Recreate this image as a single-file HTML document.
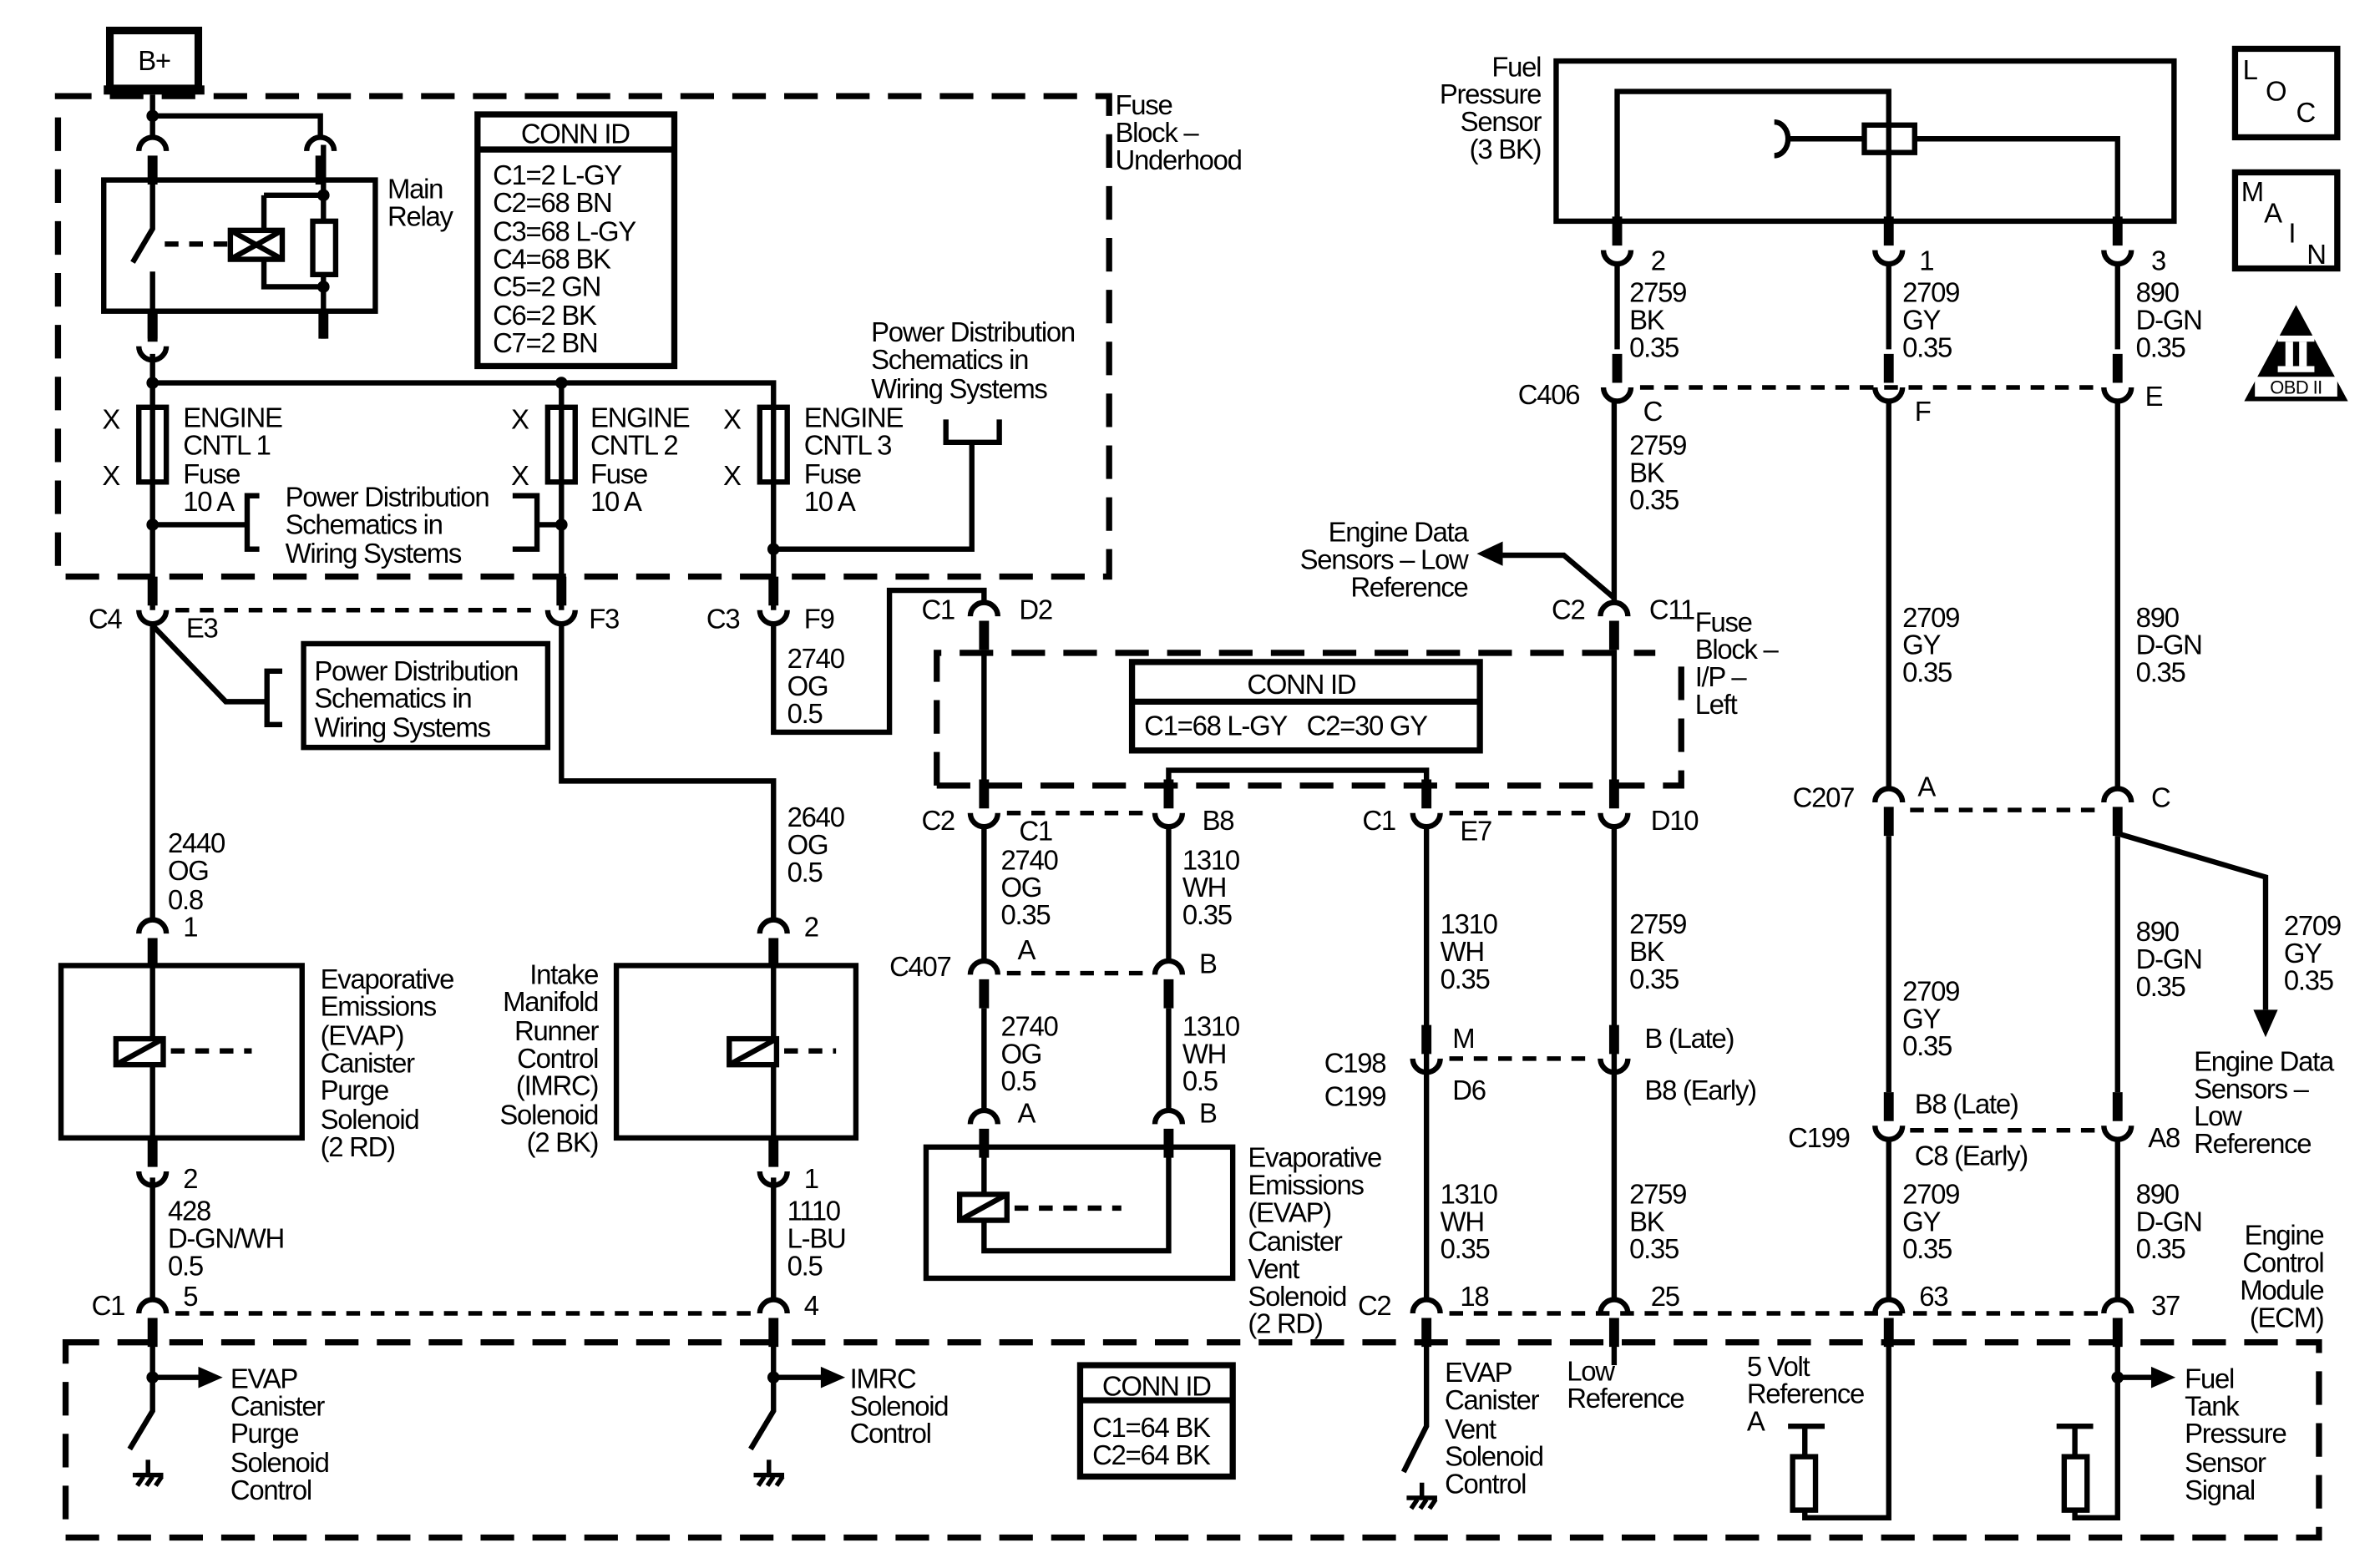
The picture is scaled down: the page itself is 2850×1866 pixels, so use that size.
<!DOCTYPE html>
<html><head><meta charset="utf-8"><style>
html,body{margin:0;padding:0;background:#fff;}
svg{display:block;}
text{font-family:"Liberation Sans",Arial,sans-serif;font-size:18px;fill:#000;letter-spacing:-0.7px;}
.r{text-anchor:end;}
.m{text-anchor:middle;}
</style></head><body>
<svg width="2850" height="1866" viewBox="0 0 1560 1021.4" preserveAspectRatio="none" xmlns="http://www.w3.org/2000/svg">
<defs>
<g id="cap"><path d="M-9,4 A9,9 0 0 1 9,4" fill="none" stroke="#000" stroke-width="3.5"/><line x1="0" y1="7" x2="0" y2="26" stroke="#000" stroke-width="6.5"/></g>
<g id="cup"><path d="M-9,-4 A9,9 0 0 0 9,-4" fill="none" stroke="#000" stroke-width="3.5"/><line x1="0" y1="-7" x2="0" y2="-26" stroke="#000" stroke-width="6.5"/></g>
<g id="gnd" stroke="#000" stroke-width="3" fill="none"><line x1="0" y1="0" x2="0" y2="10"/><line x1="-10" y1="10" x2="10" y2="10"/><line x1="-7" y1="17" x2="-3" y2="11"/><line x1="-1" y1="17" x2="3" y2="11"/><line x1="5" y1="17" x2="9" y2="11"/></g>
</defs>
<rect width="1560" height="1021.4" fill="#fff"/>

<g fill="none" stroke="#000" stroke-width="4" stroke-dasharray="22,12">
<rect x="38" y="63" width="689" height="315"/>
<path d="M614,515 V428 H1085"/>
<path d="M614,515 H1102 V428"/>
<rect x="43" y="880" width="1477" height="128"/>
</g>
<g stroke="#000" stroke-width="3" stroke-dasharray="9,7" fill="none">
<line x1="115" y1="400" x2="355" y2="400"/>
<line x1="660" y1="533" x2="752" y2="533"/>
<line x1="950" y1="533" x2="1045" y2="533"/>
<line x1="660" y1="638" x2="752" y2="638"/>
<line x1="950" y1="694" x2="1045" y2="694"/>
<line x1="115" y1="861" x2="495" y2="861"/>
<line x1="950" y1="861" x2="1375" y2="861"/>
<line x1="1075" y1="254" x2="1375" y2="254"/>
<line x1="1252" y1="531" x2="1375" y2="531"/>
<line x1="1252" y1="741" x2="1375" y2="741"/>
</g>

<rect x="72" y="20" width="58" height="38" fill="#fff" stroke="#000" stroke-width="5"/>
<rect x="68" y="56" width="66" height="6" fill="#000"/>
<text x="101" y="46" class="m">B+</text>

<g stroke="#000" stroke-width="3.5" fill="none">
<path d="M100,62 V91 M100,76 H210 V91"/>
<rect x="68" y="118" width="178" height="86"/>
<path d="M100,118 V150 L87,172 M100,178 V204"/>
<path d="M173,128 H212 M173,128 V150 M173,170 V188 H212"/>
<line x1="212" y1="95" x2="212" y2="222" stroke-width="3.5"/>
<rect x="205" y="145" width="15" height="35" fill="#fff"/>
<rect x="151" y="151" width="34" height="19" fill="#fff"/>
<path d="M151,151 L185,170 M185,151 L151,170"/>
<line x1="108" y1="160" x2="150" y2="160" stroke-dasharray="9,7"/>
<path d="M100,232 V400 M100,251 H507 V400 M368,251 V400"/>
<rect x="91" y="267" width="18" height="49" fill="#fff"/>
<line x1="100" y1="267" x2="100" y2="316"/>
<rect x="359" y="267" width="18" height="49" fill="#fff"/>
<line x1="368" y1="267" x2="368" y2="316"/>
<rect x="498" y="267" width="18" height="49" fill="#fff"/>
<line x1="507" y1="267" x2="507" y2="316"/>
<path d="M100,344 H162 M170,325 H162 V360 H170"/>
<path d="M336,325 H352 V360 H336 M352,344 H368"/>
<path d="M620,275 V290 H655 V275 M637,290 V360 H507"/>
<path d="M100,409 V604"/>
<path d="M100,410 L148,460 H175 M185,440 H175 V475 H185"/>
<rect x="199" y="422" width="160" height="68"/>
<path d="M368,409 V512 H507 V604"/>
<path d="M507,409 V480 H583 V387 H645 V396"/>
<rect x="40" y="633" width="158" height="113"/>
<line x1="100" y1="633" x2="100" y2="746"/>
<rect x="404" y="633" width="157" height="113"/>
<line x1="507" y1="633" x2="507" y2="746"/>
<path d="M100,772 V853 M507,772 V853"/>
<path d="M645,426 V529 M1058,426 V529"/>
<path d="M766,511 V505 H935 V511"/>
<path d="M645,541 V631 M766,541 V631 M645,661 V729 M766,661 V729"/>
<rect x="607" y="752" width="201" height="86"/>
<path d="M645,752 V820 H766 V752"/>
<path d="M935,541 V853 M1058,541 V853"/>
<path d="M1058,262 V396"/>
<path d="M1058,392 L1025,364 H985"/>
<rect x="1020" y="40" width="405" height="105"/>
<path d="M1060,145 V60 H1238 V145"/>
<path d="M1255,91 H1388 V145 M1172,91 H1222"/>
<path d="M1163,80 A9,11 0 0 1 1163,102"/>
<rect x="1222" y="82" width="33" height="18" fill="#fff"/>
<line x1="1238" y1="82" x2="1238" y2="100"/>
<path d="M1060,172 V229 M1238,172 V229 M1388,172 V229"/>
<path d="M1238,262 V518 M1388,262 V518"/>
<path d="M1238,548 V716 M1388,548 V716"/>
<path d="M1390,547 L1485,575 V662"/>
<path d="M1238,746 V853 M1388,746 V853"/>
<path d="M100,880 V925 L85,950 M100,903 H132"/>
<path d="M507,880 V925 L492,950 M507,903 H540"/>
<path d="M935,880 V935 L920,965"/>
<path d="M1058,880 V895"/>
<path d="M1238,880 V995 H1183 V990 M1183,955 V935 M1172,935 H1196"/>
<rect x="1175" y="955" width="15" height="35" fill="#fff"/>
<path d="M1388,880 V995 H1360 V990 M1360,955 V935 M1348,935 H1372 M1388,903 H1412"/>
<rect x="1353" y="955" width="15" height="35" fill="#fff"/>
<rect x="313" y="75" width="129" height="165" stroke-width="4"/>
<line x1="313" y1="98" x2="442" y2="98" stroke-width="4"/>
<rect x="742" y="434" width="228" height="58" stroke-width="4"/>
<line x1="742" y1="460" x2="970" y2="460" stroke-width="4"/>
<rect x="708" y="895" width="100" height="73" stroke-width="4"/>
<line x1="708" y1="918" x2="808" y2="918" stroke-width="4"/>
<rect x="1465" y="32" width="67" height="58" stroke-width="4"/>
<rect x="1465" y="113" width="67" height="63" stroke-width="4"/>
<line x1="112" y1="689" x2="165" y2="689" stroke-dasharray="9,7"/>
<line x1="514" y1="689" x2="548" y2="689" stroke-dasharray="9,7"/>
<line x1="665" y1="792" x2="735" y2="792" stroke-dasharray="9,7"/>
</g>
<g stroke="#000" stroke-width="3.5" fill="#fff">
<rect x="76" y="681" width="31" height="17"/><line x1="76" y1="698" x2="107" y2="681"/>
<rect x="478" y="681" width="31" height="17"/><line x1="478" y1="698" x2="509" y2="681"/>
<rect x="629" y="783" width="31" height="17"/><line x1="629" y1="800" x2="660" y2="783"/>
</g>
<g fill="#000">
<circle cx="100" cy="76" r="4"/><circle cx="212" cy="128" r="4"/><circle cx="212" cy="188" r="4"/>
<circle cx="100" cy="251" r="4"/><circle cx="368" cy="251" r="4"/><circle cx="100" cy="344" r="4"/>
<circle cx="368" cy="344" r="4"/><circle cx="507" cy="360" r="4"/>
<circle cx="100" cy="903" r="4"/><circle cx="507" cy="903" r="4"/><circle cx="1388" cy="903" r="4"/>
<polygon points="130,896 146,903 130,910"/><polygon points="538,896 554,903 538,910"/>
<polygon points="1410,896 1426,903 1410,910"/>
<polygon points="985,355 968,363 985,371"/>
<polygon points="1477,662 1493,662 1485,680"/>
<polygon points="1505,200 1471,263 1539,263"/>
</g>
<rect x="1493" y="220" width="24" height="4" fill="#fff"/><rect x="1493" y="240" width="24" height="4" fill="#fff"/>
<rect x="1498" y="224" width="5" height="16" fill="#fff"/><rect x="1507" y="224" width="5" height="16" fill="#fff"/>
<rect x="1478" y="247" width="54" height="13" fill="#fff"/>
<text x="1505" y="258" class="m" style="font-size:12px;letter-spacing:-0.3px">OBD II</text>
<line x1="100" y1="204" x2="100" y2="222" stroke="#000" stroke-width="6.5"/>
<line x1="212" y1="204" x2="212" y2="222" stroke="#000" stroke-width="6.5"/>

<use href="#cap" x="100" y="95"/><use href="#cap" x="210" y="95"/>
<use href="#cup" x="100" y="231"/>
<use href="#cup" x="100" y="404"/><use href="#cup" x="368" y="404"/><use href="#cup" x="507" y="404"/>
<use href="#cap" x="645" y="400"/><use href="#cap" x="1058" y="400"/>
<use href="#cap" x="100" y="608"/><use href="#cap" x="507" y="608"/>
<use href="#cup" x="100" y="772"/><use href="#cup" x="507" y="772"/>
<use href="#cap" x="100" y="857"/><use href="#cap" x="507" y="857"/>
<use href="#cup" x="645" y="537"/><use href="#cup" x="766" y="537"/><use href="#cup" x="935" y="537"/><use href="#cup" x="1058" y="537"/>
<use href="#cap" x="645" y="635"/><use href="#cap" x="766" y="635"/>
<use href="#cap" x="645" y="733"/><use href="#cap" x="766" y="733"/>
<use href="#cup" x="935" y="698"/><use href="#cup" x="1058" y="698"/>
<use href="#cap" x="935" y="857"/><use href="#cap" x="1058" y="857"/><use href="#cap" x="1238" y="857"/><use href="#cap" x="1388" y="857"/>
<use href="#cup" x="1060" y="168"/><use href="#cup" x="1238" y="168"/><use href="#cup" x="1388" y="168"/>
<use href="#cup" x="1060" y="258"/><use href="#cup" x="1238" y="258"/><use href="#cup" x="1388" y="258"/>
<use href="#cap" x="1238" y="522"/><use href="#cap" x="1388" y="522"/>
<use href="#cup" x="1238" y="742"/><use href="#cup" x="1388" y="742"/>
<use href="#gnd" x="97" y="957"/><use href="#gnd" x="504" y="957"/><use href="#gnd" x="932" y="972"/>

<text x="731" y="75">Fuse</text><text x="731" y="93">Block –</text><text x="731" y="111">Underhood</text>
<text x="254" y="130">Main</text><text x="254" y="148">Relay</text>
<text x="377" y="94" class="m">CONN ID</text>
<text x="323" y="121">C1=2 L-GY</text><text x="323" y="139">C2=68 BN</text><text x="323" y="158">C3=68 L-GY</text>
<text x="323" y="176">C4=68 BK</text><text x="323" y="194">C5=2 GN</text><text x="323" y="213">C6=2 BK</text><text x="323" y="231">C7=2 BN</text>
<text x="67" y="281">X</text><text x="67" y="318">X</text><text x="335" y="281">X</text><text x="335" y="318">X</text><text x="474" y="281">X</text><text x="474" y="318">X</text>
<text x="120" y="280">ENGINE</text><text x="120" y="298">CNTL 1</text><text x="120" y="317">Fuse</text><text x="120" y="335">10 A</text>
<text x="387" y="280">ENGINE</text><text x="387" y="298">CNTL 2</text><text x="387" y="317">Fuse</text><text x="387" y="335">10 A</text>
<text x="527" y="280">ENGINE</text><text x="527" y="298">CNTL 3</text><text x="527" y="317">Fuse</text><text x="527" y="335">10 A</text>
<text x="187" y="332">Power Distribution</text><text x="187" y="350">Schematics in</text><text x="187" y="369">Wiring Systems</text>
<text x="571" y="224">Power Distribution</text><text x="571" y="242">Schematics in</text><text x="571" y="261">Wiring Systems</text>
<text x="206" y="446">Power Distribution</text><text x="206" y="464">Schematics in</text><text x="206" y="483">Wiring Systems</text>
<text x="58" y="412">C4</text><text x="122" y="418">E3</text><text x="386" y="412">F3</text><text x="463" y="412">C3</text><text x="527" y="412">F9</text>
<text x="516" y="438">2740</text><text x="516" y="456">OG</text><text x="516" y="474">0.5</text>
<text x="604" y="406">C1</text><text x="668" y="406">D2</text>
<text x="110" y="559">2440</text><text x="110" y="577">OG</text><text x="110" y="596">0.8</text>
<text x="516" y="542">2640</text><text x="516" y="560">OG</text><text x="516" y="578">0.5</text>
<text x="120" y="614">1</text><text x="527" y="614">2</text>
<text x="210" y="648">Evaporative</text><text x="210" y="666">Emissions</text><text x="210" y="685">(EVAP)</text><text x="210" y="703">Canister</text><text x="210" y="721">Purge</text><text x="210" y="740">Solenoid</text><text x="210" y="758">(2 RD)</text>
<text x="392" y="645" class="r">Intake</text><text x="392" y="663" class="r">Manifold</text><text x="392" y="682" class="r">Runner</text><text x="392" y="700" class="r">Control</text><text x="392" y="718" class="r">(IMRC)</text><text x="392" y="737" class="r">Solenoid</text><text x="392" y="755" class="r">(2 BK)</text>
<text x="120" y="779">2</text><text x="527" y="779">1</text>
<text x="110" y="800">428</text><text x="110" y="818">D-GN/WH</text><text x="110" y="836">0.5</text>
<text x="516" y="800">1110</text><text x="516" y="818">L-BU</text><text x="516" y="836">0.5</text>
<text x="60" y="862">C1</text><text x="120" y="856">5</text><text x="527" y="862">4</text>
<text x="151" y="910">EVAP</text><text x="151" y="928">Canister</text><text x="151" y="946">Purge</text><text x="151" y="965">Solenoid</text><text x="151" y="983">Control</text>
<text x="557" y="910">IMRC</text><text x="557" y="928">Solenoid</text><text x="557" y="946">Control</text>
<text x="758" y="915" class="m">CONN ID</text><text x="716" y="942">C1=64 BK</text><text x="716" y="960">C2=64 BK</text>
<text x="853" y="455" class="m">CONN ID</text><text x="750" y="482">C1=68 L-GY&#160;&#160;&#160;C2=30 GY</text>
<text x="1111" y="414">Fuse</text><text x="1111" y="432">Block –</text><text x="1111" y="450">I/P –</text><text x="1111" y="468">Left</text>
<text x="604" y="544">C2</text><text x="668" y="551">C1</text><text x="788" y="544">B8</text><text x="893" y="544">C1</text><text x="957" y="551">E7</text><text x="1082" y="544">D10</text>
<text x="656" y="570">2740</text><text x="656" y="588">OG</text><text x="656" y="606">0.35</text>
<text x="775" y="570">1310</text><text x="775" y="588">WH</text><text x="775" y="606">0.35</text>
<text x="583" y="640">C407</text><text x="667" y="629">A</text><text x="786" y="638">B</text>
<text x="656" y="679">2740</text><text x="656" y="697">OG</text><text x="656" y="715">0.5</text>
<text x="775" y="679">1310</text><text x="775" y="697">WH</text><text x="775" y="715">0.5</text>
<text x="667" y="736">A</text><text x="786" y="736">B</text>
<text x="818" y="765">Evaporative</text><text x="818" y="783">Emissions</text><text x="818" y="801">(EVAP)</text><text x="818" y="820">Canister</text><text x="818" y="838">Vent</text><text x="818" y="856">Solenoid</text><text x="818" y="874">(2 RD)</text>
<text x="890" y="862">C2</text>
<text x="944" y="612">1310</text><text x="944" y="630">WH</text><text x="944" y="648">0.35</text>
<text x="1068" y="612">2759</text><text x="1068" y="630">BK</text><text x="1068" y="648">0.35</text>
<text x="868" y="703">C198</text><text x="868" y="725">C199</text><text x="952" y="687">M</text><text x="952" y="721">D6</text>
<text x="1078" y="687">B (Late)</text><text x="1078" y="721">B8 (Early)</text>
<text x="944" y="789">1310</text><text x="944" y="807">WH</text><text x="944" y="825">0.35</text>
<text x="1068" y="789">2759</text><text x="1068" y="807">BK</text><text x="1068" y="825">0.35</text>
<text x="957" y="856">18</text><text x="1082" y="856">25</text><text x="1258" y="856">63</text><text x="1410" y="862">37</text>
<text x="1523" y="816" class="r">Engine</text><text x="1523" y="834" class="r">Control</text><text x="1523" y="852" class="r">Module</text><text x="1523" y="870" class="r">(ECM)</text>
<text x="947" y="906">EVAP</text><text x="947" y="924">Canister</text><text x="947" y="943">Vent</text><text x="947" y="961">Solenoid</text><text x="947" y="979">Control</text>
<text x="1027" y="905">Low</text><text x="1027" y="923">Reference</text>
<text x="1145" y="902">5 Volt</text><text x="1145" y="920">Reference</text><text x="1145" y="938">A</text>
<text x="1432" y="910">Fuel</text><text x="1432" y="928">Tank</text><text x="1432" y="946">Pressure</text><text x="1432" y="965">Sensor</text><text x="1432" y="983">Signal</text>
<text x="1010" y="50" class="r">Fuel</text><text x="1010" y="68" class="r">Pressure</text><text x="1010" y="86" class="r">Sensor</text><text x="1010" y="104" class="r">(3 BK)</text>
<text x="1082" y="177">2</text><text x="1258" y="177">1</text><text x="1410" y="177">3</text>
<text x="1068" y="198">2759</text><text x="1068" y="216">BK</text><text x="1068" y="234">0.35</text>
<text x="1247" y="198">2709</text><text x="1247" y="216">GY</text><text x="1247" y="234">0.35</text>
<text x="1400" y="198">890</text><text x="1400" y="216">D-GN</text><text x="1400" y="234">0.35</text>
<text x="995" y="265">C406</text><text x="1077" y="276">C</text><text x="1255" y="276">F</text><text x="1406" y="266">E</text>
<text x="1068" y="298">2759</text><text x="1068" y="316">BK</text><text x="1068" y="334">0.35</text>
<text x="962" y="355" class="r">Engine Data</text><text x="962" y="373" class="r">Sensors – Low</text><text x="962" y="391" class="r">Reference</text>
<text x="1017" y="406">C2</text><text x="1081" y="406">C11</text>
<text x="1247" y="411">2709</text><text x="1247" y="429">GY</text><text x="1247" y="447">0.35</text>
<text x="1400" y="411">890</text><text x="1400" y="429">D-GN</text><text x="1400" y="447">0.35</text>
<text x="1175" y="529">C207</text><text x="1257" y="522">A</text><text x="1410" y="529">C</text>
<text x="1497" y="613">2709</text><text x="1497" y="631">GY</text><text x="1497" y="649">0.35</text>
<text x="1400" y="617">890</text><text x="1400" y="635">D-GN</text><text x="1400" y="653">0.35</text>
<text x="1247" y="656">2709</text><text x="1247" y="674">GY</text><text x="1247" y="692">0.35</text>
<text x="1438" y="702">Engine Data</text><text x="1438" y="720">Sensors –</text><text x="1438" y="738">Low</text><text x="1438" y="756">Reference</text>
<text x="1255" y="730">B8 (Late)</text><text x="1172" y="752">C199</text><text x="1255" y="764">C8 (Early)</text><text x="1408" y="752">A8</text>
<text x="1247" y="789">2709</text><text x="1247" y="807">GY</text><text x="1247" y="825">0.35</text>
<text x="1400" y="789">890</text><text x="1400" y="807">D-GN</text><text x="1400" y="825">0.35</text>
<text x="1470" y="52">L</text><text x="1485" y="66">O</text><text x="1505" y="80">C</text>
<text x="1469" y="132">M</text><text x="1484" y="146">A</text><text x="1500" y="159">I</text><text x="1512" y="173">N</text>
</svg>
</body></html>
